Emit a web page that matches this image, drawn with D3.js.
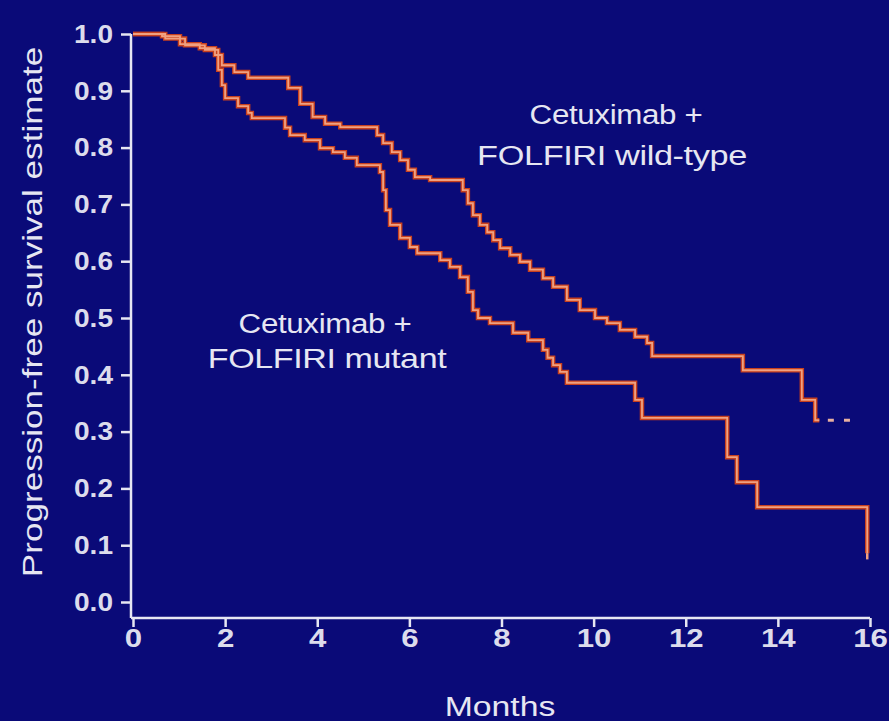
<!DOCTYPE html>
<html>
<head>
<meta charset="utf-8">
<script src="https://cdn.jsdelivr.net/npm/d3@7"></script>
<style>
  html, body { margin: 0; padding: 0; background: #0a0a78; }
  svg text { font-family: "Liberation Sans", Arial, sans-serif; fill: #e6e6f2; }
</style>
</head>
<body>
<script>
// Kaplan-Meier steps (months, survival)
var wildTimes = [0, 0.63, 1.02, 1.45, 1.78, 1.93, 2.2, 2.5, 3.37, 3.63, 3.9, 4.17, 4.5, 5.3, 5.43, 5.62, 5.8, 5.97, 6.12, 6.45, 7.16, 7.27, 7.38, 7.53, 7.69, 7.82, 7.97, 8.19, 8.4, 8.62, 8.9, 9.12, 9.42, 9.7, 10.03, 10.29, 10.57, 10.9, 11.16, 11.27, 13.24, 14.52, 14.81];
var wildSurv  = [1.0, 0.996, 0.982, 0.975, 0.963, 0.945, 0.933, 0.923, 0.905, 0.877, 0.854, 0.842, 0.836, 0.822, 0.808, 0.792, 0.778, 0.761, 0.748, 0.743, 0.725, 0.702, 0.681, 0.664, 0.651, 0.637, 0.623, 0.611, 0.599, 0.585, 0.570, 0.555, 0.532, 0.514, 0.5, 0.491, 0.479, 0.467, 0.456, 0.433, 0.408, 0.356, 0.320];
var wildEnd = 14.9;
var wildCensor = [15.15, 15.5];

var mutTimes = [0, 0.7, 1.13, 1.56, 1.85, 1.93, 2.0, 2.28, 2.5, 2.58, 3.3, 3.41, 3.73, 4.06, 4.34, 4.6, 4.86, 5.36, 5.43, 5.49, 5.58, 5.8, 6.01, 6.17, 6.67, 6.88, 7.1, 7.27, 7.38, 7.49, 7.75, 8.25, 8.58, 8.9, 9.0, 9.12, 9.27, 9.42, 10.9, 11.05, 12.9, 13.11, 13.55, 15.94];
var mutSurv  = [1.0, 0.992, 0.98, 0.972, 0.937, 0.91, 0.887, 0.873, 0.861, 0.852, 0.835, 0.822, 0.813, 0.799, 0.792, 0.782, 0.769, 0.757, 0.725, 0.69, 0.664, 0.641, 0.625, 0.614, 0.602, 0.59, 0.572, 0.546, 0.514, 0.5, 0.491, 0.474, 0.461, 0.444, 0.43, 0.417, 0.405, 0.386, 0.356, 0.324, 0.255, 0.211, 0.167, 0.086];
var mutEnd = 15.94;

var xTicks = [0, 2, 4, 6, 8, 10, 12, 14, 16];
var yTicks = [0, 0.1, 0.2, 0.3, 0.4, 0.5, 0.6, 0.7, 0.8, 0.9, 1.0];

var W = 889, H = 721;
var svg = d3.select("body").append("svg")
    .attr("width", W)
    .attr("height", H);

svg.append("rect").attr("width", W).attr("height", H).attr("fill", "#0a0a78");

var x = d3.scaleLinear().domain([0, 16]).range([133, 870]);
var y = d3.scaleLinear().domain([0, 1]).range([602, 34]);

// axes
var xAxis = svg.append("g")
    .attr("transform", "translate(0,618)")
    .call(d3.axisBottom(x).tickValues(xTicks).tickSize(9).tickPadding(2).tickFormat(d3.format("d")));
xAxis.select(".domain").attr("d", "M131,0H870");

var yAxis = svg.append("g")
    .attr("transform", "translate(131,0)")
    .call(d3.axisLeft(y).tickValues(yTicks).tickSize(10).tickPadding(8).tickFormat(d3.format(".1f")));
yAxis.select(".domain").attr("d", "M0,34V618");

svg.selectAll(".domain, .tick line")
    .attr("stroke", "#e6e6f2")
    .attr("stroke-width", 2.5);

// tick labels: slightly wide, bold
function widen(sel, sx) {
  sel.each(function(){
    var t = d3.select(this);
    var tx = +t.attr("x") || 0, ty = +t.attr("y") || 0;
    t.attr("x", null).attr("y", null)
     .attr("transform", "translate(" + tx + "," + ty + ") scale(" + sx + ",1)");
  });
}
svg.selectAll(".tick text")
    .attr("font-size", 26)
    .attr("font-weight", "bold")
    .style("fill", "#dcdcec");
widen(yAxis.selectAll(".tick text"), 1.08);
widen(xAxis.selectAll(".tick text"), 1.2);

svg.append("text")
    .attr("transform", "translate(500,716) scale(1.25,1)")
    .attr("text-anchor", "middle")
    .attr("font-size", 27)
    .text("Months");

svg.append("text")
    .attr("transform", "translate(42,312) rotate(-90) scale(1.3,1)")
    .attr("text-anchor", "middle")
    .attr("font-size", 27)
    .text("Progression-free survival estimate");

// step curves
function stepData(times, surv, end) {
  var pts = times.map(function(t, i){ return [t, surv[i]]; });
  pts.push([end, surv[surv.length - 1]]);
  return pts;
}
var line = d3.line()
    .x(function(d){ return x(d[0]); })
    .y(function(d){ return y(d[1]); })
    .curve(d3.curveStepAfter);

var curves = [stepData(wildTimes, wildSurv, wildEnd), stepData(mutTimes, mutSurv, mutEnd)];
svg.selectAll("path.glow").data(curves).enter().append("path")
    .attr("class", "glow")
    .attr("d", line)
    .attr("fill", "none")
    .attr("stroke", "#c8401e")
    .attr("stroke-width", 4.5);
svg.selectAll("path.km").data(curves).enter().append("path")
    .attr("class", "km")
    .attr("d", line)
    .attr("fill", "none")
    .attr("stroke", "#f0a080")
    .attr("stroke-width", 1.8);

// mutant drop at the end
svg.append("line")
    .attr("x1", x(mutEnd)).attr("x2", x(mutEnd))
    .attr("y1", y(mutSurv[mutSurv.length - 1])).attr("y2", y(0.075))
    .attr("stroke", "#f0a080").attr("stroke-width", 2.5);

// censor dashes after the wild-type curve ends
svg.selectAll("line.censor").data(wildCensor).enter().append("line")
    .attr("class", "censor")
    .attr("x1", function(d){ return x(d) - 3; })
    .attr("x2", function(d){ return x(d) + 3; })
    .attr("y1", y(wildSurv[wildSurv.length - 1]))
    .attr("y2", y(wildSurv[wildSurv.length - 1]))
    .attr("stroke", "#e8b0a0").attr("stroke-width", 3);

// annotations
var notes = [
  {text: "Cetuximab +", cx: 616, by: 124, sx: 1.16},
  {text: "FOLFIRI wild-type", cx: 612, by: 165, sx: 1.27},
  {text: "Cetuximab +", cx: 325, by: 333, sx: 1.16},
  {text: "FOLFIRI mutant", cx: 327, by: 368, sx: 1.26}
];
notes.forEach(function(n){
  svg.append("text")
    .attr("transform", "translate(" + n.cx + "," + n.by + ") scale(" + n.sx + ",1)")
    .attr("text-anchor", "middle")
    .attr("font-size", 27)
    .attr("letter-spacing", -0.3)
    .text(n.text);
});
</script>
</body>
</html>
